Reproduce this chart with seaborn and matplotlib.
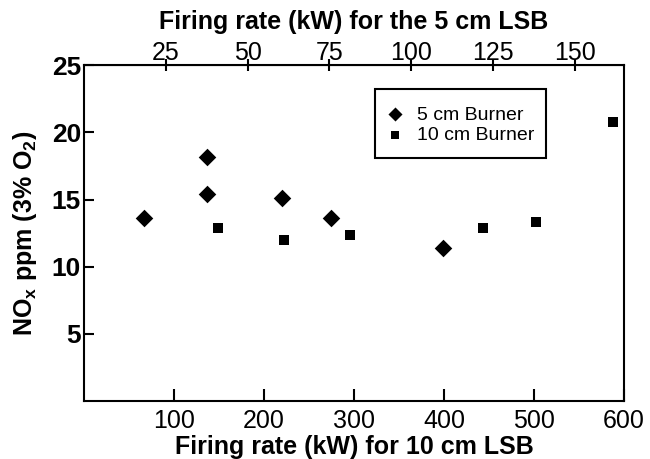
import pandas as pd
import seaborn as sns
import matplotlib.pyplot as plt
from matplotlib.patches import Rectangle

# firing rate on the 10 cm LSB scale (bottom axis), NOx in ppm
x_5cm = [67, 137, 137, 220, 274, 399]
nox_5cm = [13.6, 18.2, 15.4, 15.1, 13.6, 11.4]
x_10cm = [149, 222, 296, 443, 502, 588]
nox_10cm = [12.9, 12.0, 12.4, 12.9, 13.3, 20.8]

bottom_ticks = [100, 200, 300, 400, 500, 600]
top_ticks = [25, 50, 75, 100, 125, 150]
y_ticks = [5, 10, 15, 20, 25]
top_max = 165  # 5 cm LSB scale at the right edge (600 on the bottom)

df5 = pd.DataFrame({"rate": x_5cm, "nox": nox_5cm})
df10 = pd.DataFrame({"rate": x_10cm, "nox": nox_10cm})

sns.set_style("ticks", {"axes.edgecolor": "black", "text.color": "black",
                        "axes.labelcolor": "black", "xtick.color": "black",
                        "ytick.color": "black"})
plt.rcParams["font.family"] = ["Liberation Sans", "DejaVu Sans"]
plt.rcParams["mathtext.fontset"] = "custom"
plt.rcParams["mathtext.rm"] = "Liberation Sans:bold"
plt.rcParams["mathtext.it"] = "Liberation Sans:bold"
plt.rcParams["mathtext.bf"] = "Liberation Sans:bold"

fig, ax = plt.subplots(figsize=(6.5, 4.59), dpi=100)
fig.subplots_adjust(left=0.129, right=0.96, bottom=0.126, top=0.858)

sns.scatterplot(data=df5, x="rate", y="nox", marker="D", color="black",
                s=80, linewidth=0, label="5 cm Burner", ax=ax)
sns.scatterplot(data=df10, x="rate", y="nox", marker="s", color="black",
                s=62, linewidth=0, label="10 cm Burner", ax=ax)

ax.set_xlim(0, 600)
ax.set_ylim(0, 25)
ax.set_xticks(bottom_ticks)
ax.set_yticks(y_ticks)
ax.tick_params(axis="x", direction="in", length=9, width=1.5, pad=6, labelsize=18)
ax.tick_params(axis="y", direction="in", length=7, width=1.5, pad=2, labelsize=19)
for lab in ax.get_yticklabels():
    lab.set_fontweight("bold")
for sp in ax.spines.values():
    sp.set_linewidth(1.5)
    sp.set_color("black")
    sp.set_visible(True)

ax.set_xlabel("Firing rate (kW) for 10 cm LSB", fontsize=18, weight="bold", labelpad=1)
ax.set_ylabel("NO$_\\mathrm{x}$ ppm (3% O$_\\mathrm{2}$)", fontsize=18, weight="bold", labelpad=9)

top = ax.secondary_xaxis("top", functions=(lambda v: v * top_max / 600,
                                           lambda v: v * 600 / top_max))
top.set_xticks(top_ticks)
top.tick_params(direction="inout", length=8, width=1.5, pad=-4, labelsize=18,
                colors="black")
top.set_xlabel("Firing rate (kW) for the 5 cm LSB", fontsize=18, weight="bold",
               labelpad=9, color="black")

# legend box
ax.add_patch(Rectangle((0.539, 0.723), 0.317, 0.206, transform=ax.transAxes,
                       fill=False, edgecolor="black", linewidth=1.5, zorder=3))
ax.legend(loc="center left", bbox_to_anchor=(0.562, 0.822), frameon=False,
          fontsize=14, borderpad=0, borderaxespad=0, handlelength=0.8,
          handletextpad=0.7, labelspacing=0.15, markerscale=0.8)

plt.savefig("out.png")
